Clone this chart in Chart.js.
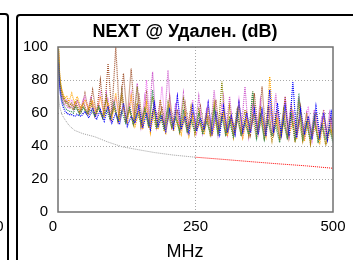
<!DOCTYPE html>
<html>
<head>
<meta charset="utf-8">
<script src="https://cdn.jsdelivr.net/npm/chart.js@4"></script>
<style>body{margin:0;background:#fff}</style>
</head>
<body>
<canvas id="c" width="353" height="260"></canvas>
<script>
// chart texts
const titleText = 'NEXT @ Удален. (dB)';
const xTitle = 'MHz';
const xTicks = [0, 250, 500];
const yTicks = [0, 20, 40, 60, 80, 100];

// sweep frequencies (MHz), two interleaved sweeps
const freqsA = [1,2,3,4,6,8,10,13,16,20,
  25,30,35,42,49,56,63,70,77,84,
  91,98,105,112,119,126,133,140,147,154,
  161,168,175,182,189,196,203,210,217,224,
  231,238,245,252,259,266,273,280,287,294,
  301,308,315,322,329,336,343,350,357,364,
  371,378,385,392,399,406,413,420,427,434,
  441,448,455,462,469,476,483,490,497,500];
const freqsB = [1,2,3,4,6,8,10,13,16,20,
  24,28,32,39,46,53,60,67,74,81,
  88,95,102,109,116,123,130,137,144,151,
  158,165,172,179,186,193,200,207,214,221,
  228,235,242,249,256,263,270,277,284,291,
  298,305,312,319,326,333,340,347,354,361,
  368,375,382,389,396,403,410,417,424,431,
  438,445,452,459,466,473,480,487,494,500];

// measured pairs (dB)
const orange = [100,90,84,80,76,73,71,69,70,67,
  72,66,70,63,68,62,67,60,70,58,
  66,56,72,55,64,54,70,52,60,50,
  66,48,62,50,58,47,64,49,56,47,
  60,46,58,50,54,47,62,46,55,49,
  60,46,57,48,63,45,56,49,60,47,
  58,46,82,48,57,45,60,47,54,44,
  58,43,55,46,52,42,56,44,50,45];
const brown = [96,86,80,76,72,70,68,66,67,64,
  66,62,68,61,72,60,74,59,80,58,
  90,60,100,58,84,57,87,55,72,53,
  72,52,66,53,64,51,70,52,62,50,
  66,51,60,49,64,50,58,48,68,49,
  62,47,58,49,66,48,60,47,72,48,
  76,46,64,47,62,46,70,45,60,47,
  64,45,58,46,60,44,62,45,56,47];
const blue = [90,82,76,72,68,65,63,61,60,59,
  59,58,59,58,61,57,63,56,62,55,
  64,54,60,53,66,52,58,54,64,51,
  60,50,66,52,58,49,62,51,70,50,
  58,48,64,49,57,50,66,48,60,47,
  64,48,58,47,66,49,60,48,62,47,
  62,46,74,48,66,47,64,46,79,45,
  62,47,58,44,64,46,60,44,62,48];
const violet = [97,87,81,77,73,70,68,67,68,66,
  68,64,67,62,70,60,66,59,72,58,
  68,57,70,56,66,55,72,53,64,52,
  80,51,66,53,76,50,64,52,70,49,
  62,50,68,48,60,50,66,47,58,49,
  70,47,60,48,68,46,58,48,64,47,
  60,45,66,47,58,46,70,44,62,46,
  58,45,64,43,56,45,60,44,55,46];
const olive = [98,88,82,78,74,71,69,67,66,64,
  63,62,65,60,64,59,66,58,63,57,
  70,56,64,55,74,54,62,53,76,52,
  63,51,70,52,60,50,66,51,58,49,
  68,50,56,48,62,49,58,47,64,48,
  79,47,58,46,62,48,55,46,73,47,
  60,45,64,46,56,44,62,45,58,43,
  66,44,55,42,58,43,54,41,52,43];
const green = [92,84,78,74,70,67,65,63,62,61,
  61,60,64,59,63,60,62,58,64,57,
  62,56,66,55,61,54,64,53,60,54,
  62,52,74,51,58,50,63,51,57,49,
  62,48,56,49,60,47,55,48,62,46,
  58,47,55,45,60,46,54,47,73,45,
  58,44,55,46,52,42,56,44,60,45,
  72,43,54,44,58,42,53,44,50,42];
const orchid = [94,85,79,75,71,68,66,65,64,63,
  64,62,66,60,68,59,70,58,66,57,
  72,56,68,55,74,54,66,53,78,52,
  70,54,85,52,68,51,86,50,66,52,
  72,49,64,50,70,48,62,49,74,47,
  64,48,70,47,62,49,76,46,64,48,
  68,46,62,47,72,45,60,47,66,44,
  70,46,60,45,62,44,58,46,60,45];
const gold = [99,89,83,79,75,72,70,68,67,66,
  65,64,67,61,66,60,68,59,64,58,
  68,57,63,56,70,55,62,54,66,52,
  64,51,60,50,68,49,58,51,62,48,
  58,49,64,47,56,48,60,46,66,47,
  60,46,64,45,56,47,62,46,58,44,
  64,45,56,43,60,44,54,45,62,42,
  56,43,60,41,54,44,52,40,55,44];

// limit line
const limitFreqs = [1,2,4,8,13,20,30,45,67,90,116,145,176,210,250];
const limitVals = [70,66.5,62.5,58.5,55.8,52.5,49.5,47.5,45.6,42.5,39.6,37.8,36.0,34.5,33.2];
const limitFreqsHi = [250,300,358,400,450,500];
const limitValsHi = [33.2,31.9,30.3,29.2,28.0,26.5];

function series(fr, vals, color, width) {
  return {
    data: fr.map((f, i) => ({x: f, y: vals[i]})),
    borderColor: color,
    borderWidth: width || 1.2,
    borderDash: [1, 1],
    pointRadius: 0,
    fill: false,
    tension: 0
  };
}

const font = '"Liberation Sans", Arial, sans-serif';

const frame = {
  id: 'frame',
  beforeDraw(chart) {
    const c = chart.ctx;
    c.save();
    c.fillStyle = '#fff';
    c.fillRect(0, 0, chart.width, chart.height);
    c.restore();
  },
  afterDraw(chart) {
    const c = chart.ctx, a = chart.chartArea, sx = chart.scales.x;
    c.save();
    // plot box
    c.strokeStyle = '#707070';
    c.lineWidth = 1.5;
    c.strokeRect(a.left, a.top, a.right - a.left, a.bottom - a.top);
    // panel frames
    c.strokeStyle = '#000';
    c.lineWidth = 2;
    c.beginPath(); c.roundRect(-20, 14, 28, 300, 3); c.stroke();
    c.beginPath(); c.roundRect(17, 15, 400, 300, 3); c.stroke();
    // titles
    c.fillStyle = '#000';
    c.textAlign = 'center';
    c.textBaseline = 'alphabetic';
    c.font = 'bold 18px ' + font;
    c.fillText(titleText, 185, 37);
    c.font = '18px ' + font;
    c.fillText(xTitle, 185, 257);
    // x tick labels (first one nudged left, as in the original)
    c.font = '15px ' + font;
    c.textBaseline = 'top';
    xTicks.forEach((v, i) => {
      c.fillText(String(v), sx.getPixelForValue(v) - (i === 0 ? 5 : 0), a.bottom + 7);
    });
    // tail of the neighbouring panel's label
    c.textAlign = 'right';
    c.textBaseline = 'middle';
    c.fillText('0', 3.5, 227);
    c.restore();
  }
};

const edgeGrid = (ctx) => (ctx.tick && (ctx.tick.value === 0 || ctx.tick.value === 100 || ctx.tick.value === 500)) ? 'rgba(0,0,0,0)' : '#a8a8a8';

new Chart(document.getElementById('c'), {
  type: 'line',
  data: {
    datasets: [
      series(limitFreqs, limitVals, '#a0a0a0', 1),
      series(limitFreqsHi, limitValsHi, '#ff0000', 1),
      series(freqsA, blue, '#0000ff'),
      series(freqsB, green, '#2e8b57'),
      series(freqsB, gold, '#b8860b'),
      series(freqsA, orange, '#ffa500'),
      series(freqsB, olive, '#808000'),
      series(freqsA, violet, '#ee82ee'),
      series(freqsB, orchid, '#cc55cc'),
      series(freqsA, brown, '#a0522d')
    ]
  },
  options: {
    responsive: false,
    animation: false,
    layout: {padding: {left: 0, right: 20, top: 47, bottom: 0}},
    plugins: {legend: {display: false}, tooltip: {enabled: false}},
    scales: {
      x: {
        type: 'linear',
        min: 0, max: 500,
        afterBuildTicks: (s) => { s.ticks = xTicks.map(v => ({value: v})); },
        afterFit: (s) => { s.height = 48; },
        ticks: {display: false},
        grid: {color: edgeGrid, drawTicks: false, lineWidth: 1},
        border: {display: false, dash: [1, 2]}
      },
      y: {
        min: 0, max: 100,
        afterBuildTicks: (s) => { s.ticks = yTicks.map(v => ({value: v})); },
        afterFit: (s) => { s.width = 58; },
        ticks: {color: '#000', padding: 10, font: {family: font, size: 15}},
        grid: {color: edgeGrid, drawTicks: false, lineWidth: 1},
        border: {display: false, dash: [1, 2]}
      }
    }
  },
  plugins: [frame]
});
</script>
</body>
</html>
